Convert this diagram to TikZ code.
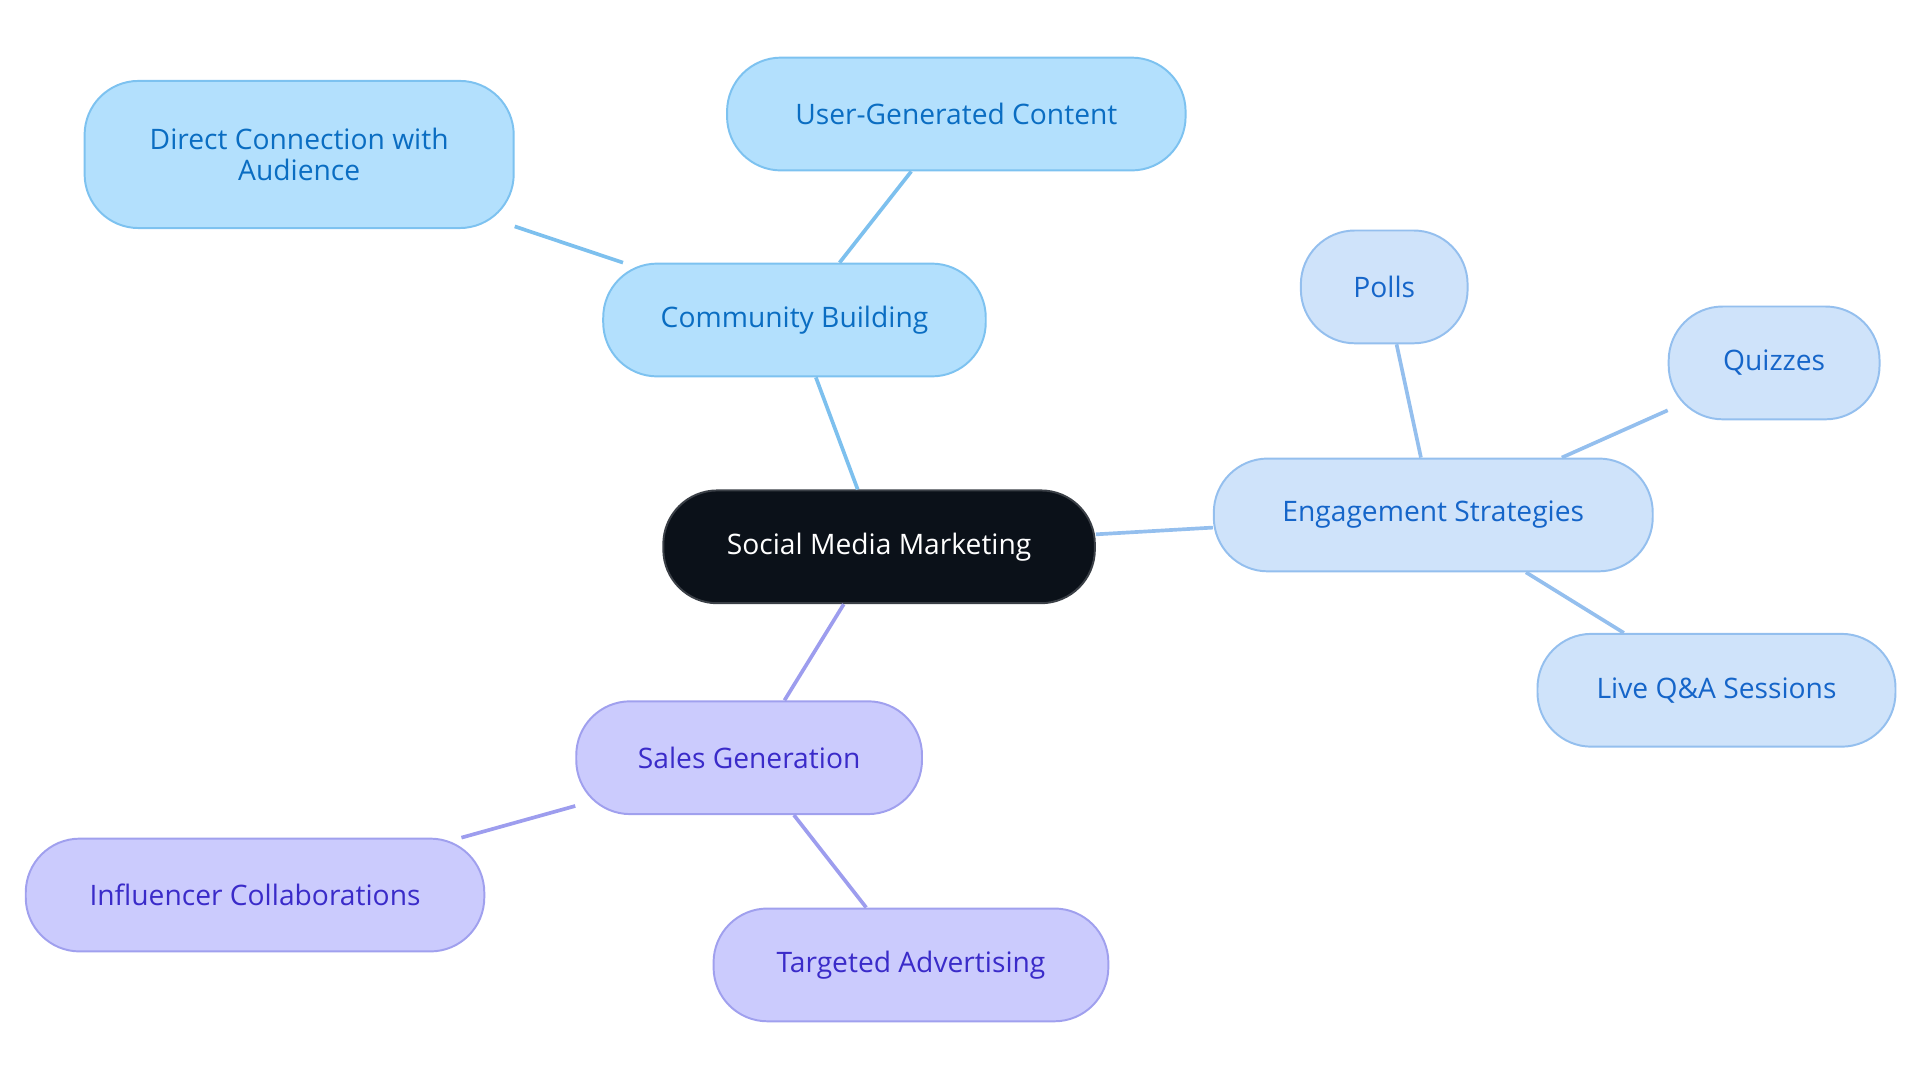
\documentclass[tikz,border=0pt]{standalone}
\usepackage{fontspec}
\setmainfont{Open Sans}
\begin{document}
\begin{tikzpicture}[x=0.5pt,y=-0.5pt,
 base/.style={rounded corners=22pt,line width=0.8pt,align=center,font=\fontsize{11.5}{13}\selectfont,inner sep=0pt,minimum height=46pt},
 root/.style={base,fill=black!90!blue!60!black,fill=c0,draw=c0l,text=white},
 cb/.style={base,fill=c1,draw=c1l,text=c1t},
 en/.style={base,fill=c2,draw=c2l,text=c2t},
 sg/.style={base,fill=c3,draw=c3l,text=c3t},
 e1/.style={draw=c1e,line width=1.5pt},
 e2/.style={draw=c2e,line width=1.5pt},
 e3/.style={draw=c3e,line width=1.5pt}]
\definecolor{c0}{HTML}{0B1119}\definecolor{c0l}{HTML}{3A3F46}
\definecolor{c1}{HTML}{B3E0FD}\definecolor{c1l}{HTML}{7DC2F0}\definecolor{c1t}{HTML}{0A6DC2}\definecolor{c1e}{HTML}{7DC0EE}
\definecolor{c2}{HTML}{CFE3FA}\definecolor{c2l}{HTML}{94BFEE}\definecolor{c2t}{HTML}{1565C9}\definecolor{c2e}{HTML}{94BFEE}
\definecolor{c3}{HTML}{CBCBFD}\definecolor{c3l}{HTML}{A0A0EE}\definecolor{c3t}{HTML}{3A2BC9}\definecolor{c3e}{HTML}{9D9DEE}
\useasboundingbox (0,0) rectangle (1566,883);
\node[root,minimum width=176pt] (smm) at (717,446) {Social Media Marketing};
\node[cb,minimum width=156pt] (cbn) at (648,261) {Community Building};
\node[cb,minimum width=175pt,minimum height=60pt] (dc) at (244,126) {Direct Connection with\\Audience};
\node[cb,minimum width=187pt] (ugc) at (780,93) {User-Generated Content};
\node[en,minimum width=179pt] (es) at (1169,420) {Engagement Strategies};
\node[en,minimum width=68pt] (po) at (1129,234) {Polls};
\node[en,minimum width=86pt] (qu) at (1447,296) {Quizzes};
\node[en,minimum width=146pt] (qa) at (1400,563) {Live Q\&A Sessions};
\node[sg,minimum width=141pt] (sg) at (611,618) {Sales Generation};
\node[sg,minimum width=187pt] (in) at (208,730) {Influencer Collaborations};
\node[sg,minimum width=161pt] (ta) at (743,787) {Targeted Advertising};
\begin{scope}[on background layer/.style={}]
\end{scope}
\draw[e1] (smm) -- (cbn);
\draw[e1] (cbn) -- (dc);
\draw[e1] (cbn) -- (ugc);
\draw[e2] (smm) -- (es);
\draw[e2] (es) -- (po);
\draw[e2] (es) -- (qu);
\draw[e2] (es) -- (qa);
\draw[e3] (smm) -- (sg);
\draw[e3] (sg) -- (in);
\draw[e3] (sg) -- (ta);
\end{tikzpicture}
\end{document}
